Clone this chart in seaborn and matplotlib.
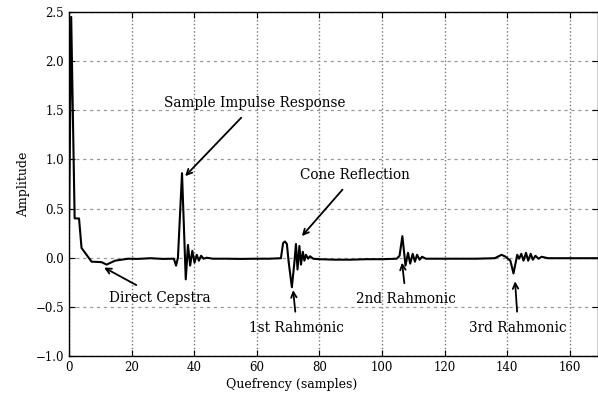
import matplotlib
matplotlib.use("Agg")
import matplotlib.pyplot as plt
import seaborn as sns
import pandas as pd

# ── Cepstrum trace (quefrency in samples) ──
quefrency = [
    0, 0.7, 1.8, 3.2, 4.0, 5.6, 7.2, 10.4, 12.0, 14.7, 18.9, 22, 26, 30,
    33.5, 34.2, 34.8, 36.1, 37.3, 38.0, 38.7, 39.4, 40.1, 40.8, 41.5, 42.2,
    43.0, 44, 46, 50, 55, 60, 64,
    67.7, 68.4, 69.0, 69.6, 70.2, 71.2, 72.0, 72.5, 73.0, 73.6, 74.1, 74.7,
    75.2, 75.7, 76.4, 77.0, 78, 80, 85, 90, 95, 100,
    104.7, 105.6, 106.5, 107.5, 108.3, 109.0, 109.8, 110.5, 111.2, 112.0,
    112.8, 114, 118, 124, 130, 136,
    138.2, 139.5, 141, 142, 143.2, 143.8, 144.5, 145.2, 146, 146.7, 147.5,
    148.2, 149, 150, 151, 153, 158, 164, 170,
]
amplitude = [
    0.3, 2.45, 0.4, 0.4, 0.1, 0.03, -0.04, -0.045, -0.07, -0.03, -0.01, -0.012, -0.005, -0.012,
    -0.01, -0.08, 0.0, 0.86, -0.22, 0.13, -0.08, 0.07, -0.05, 0.03, -0.03, 0.02,
    -0.01, 0.0, -0.01, -0.01, -0.012, -0.01, -0.01,
    -0.005, 0.15, 0.165, 0.14, -0.05, -0.30, -0.05, 0.14, -0.12, 0.12, -0.07, 0.06,
    -0.03, 0.03, -0.01, 0.015, -0.01, -0.015, -0.02, -0.02, -0.015, -0.015,
    -0.01, 0.02, 0.22, -0.08, 0.05, -0.06, 0.04, -0.04, 0.03, -0.02,
    0.01, -0.01, -0.01, -0.01, -0.01, -0.005,
    0.03, 0.01, -0.03, -0.16, 0.03, -0.01, 0.04, -0.03, 0.05, -0.03, 0.04,
    -0.02, 0.02, -0.01, 0.01, -0.005, -0.005, -0.005, -0.005,
]

# annotation labels, text positions and arrow targets (data coords)
labels = ["Sample Impulse Response", "Cone Reflection", "Direct Cepstra",
          "1st Rahmonic", "2nd Rahmonic", "3rd Rahmonic"]
text_xy = [(59.4, 1.57), (91.4, 0.84), (29.1, -0.41),
           (72.8, -0.71), (107.7, -0.42), (143.5, -0.71)]
arrow_xy = [(37.1, 0.83), (74.4, 0.22), (11.2, -0.10),
            (71.6, -0.33), (106.4, -0.05), (142.5, -0.24)]

df = pd.DataFrame({"quefrency": quefrency, "amplitude": amplitude})

sns.set_style("ticks")
plt.rcParams["font.family"] = ["DejaVu Serif"]
plt.rcParams["axes.unicode_minus"] = True
plt.rcParams.update({"text.color": "black", "axes.labelcolor": "black",
                     "xtick.color": "black", "ytick.color": "black"})

fig = plt.figure(figsize=(5.98, 3.98), dpi=100)
ax = fig.add_axes([0.1154, 0.1055, 0.8846, 0.8643])

sns.lineplot(data=df, x="quefrency", y="amplitude", color="black",
             linewidth=1.5, ax=ax, sort=False, estimator=None)

ax.set_xlim(0, 169)
ax.set_ylim(-1.0, 2.5)
ax.set_xticks(range(0, 161, 20))
ax.set_yticks([-1.0, -0.5, 0.0, 0.5, 1.0, 1.5, 2.0, 2.5])
ax.set_yticklabels([f"{v:.1f}".replace("-", "\u2212") for v in ax.get_yticks()])
ax.xaxis.grid(True, linestyle=":", color="#777777", linewidth=1.0)
ax.yaxis.grid(True, linestyle=(0, (2.5, 3)), color="#999999", linewidth=0.9)
ax.tick_params(direction="in", top=True, right=True, labelsize=8.5, length=4)
for s in ax.spines.values():
    s.set_color("black")
    s.set_linewidth(1.0)

ax.set_xlabel("Quefrency (samples)", fontsize=9)
ax.set_ylabel("Amplitude", fontsize=9)
ax.xaxis.set_label_coords(0.42, -0.065)

for lab, txy, axy in zip(labels, text_xy, arrow_xy):
    ax.annotate(lab, xy=axy, xytext=txy, ha="center", va="center", fontsize=9.8,
                arrowprops=dict(arrowstyle="->", color="black", lw=1.3,
                                shrinkA=4, shrinkB=0))

fig.savefig("out.png", dpi=100)
